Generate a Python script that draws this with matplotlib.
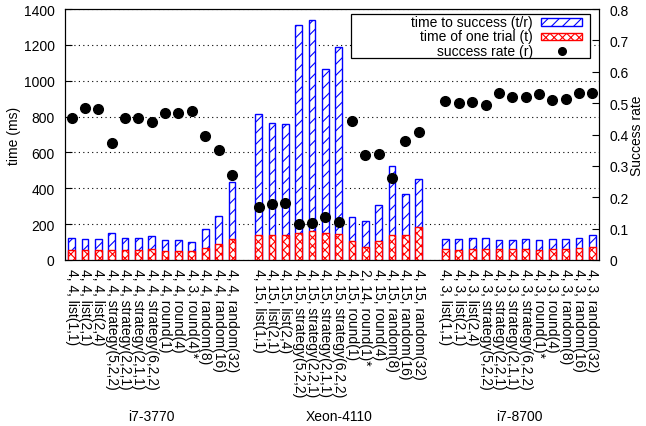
import matplotlib
matplotlib.use("Agg")
import matplotlib.pyplot as plt
import numpy as np
from matplotlib.patches import Rectangle

plt.rcParams['font.family'] = ['Liberation Sans', 'DejaVu Sans']
plt.rcParams['hatch.linewidth'] = 0.8

groups = ["i7-3770", "Xeon-4110", "i7-8700"]

labels_g1 = ["4, 4, list(1,1)", "4, 4, list(2,1)", "4, 4, list(2,4)",
             "4, 4, strategy(5,2,2)", "4, 4, strategy(2,2,1)", "4, 4, strategy(2,1,1)",
             "4, 4, strategy(6,2,2)", "4, 4, round(1)", "4, 4, round(4)",
             "4, 3, round(4)*", "4, 4, random(8)", "4, 4, random(16)", "4, 4, random(32)"]
labels_g2 = ["4, 15, list(1,1)", "4, 15, list(2,1)", "4, 15, list(2,4)",
             "4, 15, strategy(5,2,2)", "4, 15, strategy(2,2,1)", "4, 15, strategy(2,1,1)",
             "4, 15, strategy(6,2,2)", "4, 15, round(1)", "2, 14, round(1)*",
             "4, 15, round(4)", "4, 15, random(8)", "4, 15, random(16)", "4, 15, random(32)"]
labels_g3 = ["4, 3, list(1,1)", "4, 3, list(2,1)", "4, 3, list(2,4)",
             "4, 3, strategy(5,2,2)", "4, 3, strategy(2,2,1)", "4, 3, strategy(2,1,1)",
             "4, 3, strategy(6,2,2)", "4, 3, round(1)*", "4, 3, round(4)",
             "4, 3, random(8)", "4, 3, random(16)", "4, 3, random(32)"]

success_time_g1 = [123, 115, 115, 149, 123, 125, 132, 110, 110, 99, 171, 247, 437]
trial_time_g1 = [54, 54, 54, 54, 54, 54, 60, 50, 50, 48, 65, 87, 117]
rate_g1 = [0.451, 0.483, 0.480, 0.372, 0.451, 0.451, 0.440, 0.469, 0.470, 0.474, 0.396, 0.352, 0.270]

success_time_g2 = [816, 766, 757, 1309, 1340, 1067, 1190, 238, 217, 305, 522, 368, 452]
trial_time_g2 = [139, 138, 138, 149, 160, 149, 143, 104, 72, 104, 139, 139, 184]
rate_g2 = [0.168, 0.180, 0.182, 0.114, 0.118, 0.137, 0.122, 0.442, 0.334, 0.338, 0.262, 0.378, 0.408]

success_time_g3 = [117, 117, 121, 121, 113, 113, 117, 110, 117, 117, 121, 138]
trial_time_g3 = [60, 58, 61, 61, 61, 61, 61, 58, 60, 60, 65, 72]
rate_g3 = [0.506, 0.499, 0.504, 0.494, 0.533, 0.518, 0.520, 0.528, 0.510, 0.512, 0.533, 0.532]

legend_labels = ["time to success (t/r)", "time of one trial (t)", "success rate (r)"]

fig = plt.figure(figsize=(6.46, 4.27), dpi=100)
AX_L, AX_R, AX_T, AX_B = 65, 599, 10, 261
ax = fig.add_axes([AX_L/646, 1-AX_B/427, (AX_R-AX_L)/646, (AX_B-AX_T)/427])
ax2 = ax.twinx()

all_labels, all_succ, all_trial, all_rate, pos = [], [], [], [], []
start = 0
group_centers = []
for labs, s, t, r in [(labels_g1, success_time_g1, trial_time_g1, rate_g1),
                      (labels_g2, success_time_g2, trial_time_g2, rate_g2),
                      (labels_g3, success_time_g3, trial_time_g3, rate_g3)]:
    p = list(range(start, start + len(labs)))
    pos += p
    group_centers.append((p[0] + p[-1]) / 2)
    all_labels += labs
    all_succ += s
    all_trial += t
    all_rate += r
    start += len(labs) + 1

w = 0.5
ax.bar(pos, all_succ, width=w, facecolor='white', edgecolor='blue', hatch='///', linewidth=1.0, zorder=2)
ax.bar(pos, all_trial, width=w, facecolor='white', edgecolor='red', hatch='xxxx', linewidth=1.0, zorder=3)
ax2.plot(pos, all_rate, 'o', color='black', markersize=7, zorder=4)

ax.set_xlim(-0.5, pos[-1] + 0.5)
ax.set_ylim(0, 1400)
ax2.set_ylim(0, 0.8)
ax.set_yticks(np.arange(0, 1401, 200))
ax2.set_yticks(np.arange(0, 0.81, 0.1))
ax2.set_yticklabels(["0", "0.1", "0.2", "0.3", "0.4", "0.5", "0.6", "0.7", "0.8"])
ax.yaxis.grid(True, linestyle=(0, (1, 3)), color='black', linewidth=0.8)
ax.set_axisbelow(True)

ax.set_xticks(pos)
ax.set_xticklabels(all_labels, rotation=-90, va='top', ha='center', fontsize=10)
ax.tick_params(axis='x', direction='in', length=0, pad=6)
ax.tick_params(axis='y', direction='in', length=5, labelsize=10, pad=7.5)
ax2.tick_params(axis='y', direction='in', length=5, labelsize=10, pad=7.5)

ax.set_ylabel("time (ms)", fontsize=10, labelpad=2)
ax2.set_ylabel("Success rate", fontsize=10, labelpad=1)

for g, c in zip(groups, group_centers):
    ax.text(c, -0.62, g, transform=ax.get_xaxis_transform(), ha='center', va='center', fontsize=10)

# gnuplot-style key, placed in axes fractions from pixel layout
def fx(px):
    return (px - AX_L) / (AX_R - AX_L)

def fy(py):
    return (AX_B - py) / (AX_B - AX_T)

tr = ax2.transAxes
ax2.add_patch(Rectangle((fx(351), fy(59)), fx(590) - fx(351), fy(15) - fy(59), transform=tr,
                        facecolor='white', edgecolor='black', linewidth=0.9, zorder=5))
row_y = [23, 37, 52]
for lab, yy in zip(legend_labels, row_y):
    ax2.text(fx(533), fy(yy), lab, transform=tr, ha='right', va='center', fontsize=10, zorder=6)
ax2.add_patch(Rectangle((fx(541), fy(27)), fx(582) - fx(541), fy(19) - fy(27), transform=tr,
                        facecolor='white', edgecolor='blue', hatch='///', linewidth=1.0, zorder=6))
ax2.add_patch(Rectangle((fx(541), fy(41)), fx(582) - fx(541), fy(34) - fy(41), transform=tr,
                        facecolor='white', edgecolor='red', hatch='xxxx', linewidth=1.0, zorder=6))
ax2.plot([fx(561.5)], [fy(52)], 'o', color='black', markersize=5.5, transform=tr, zorder=7, clip_on=False)

fig.savefig("out.png", dpi=100)
